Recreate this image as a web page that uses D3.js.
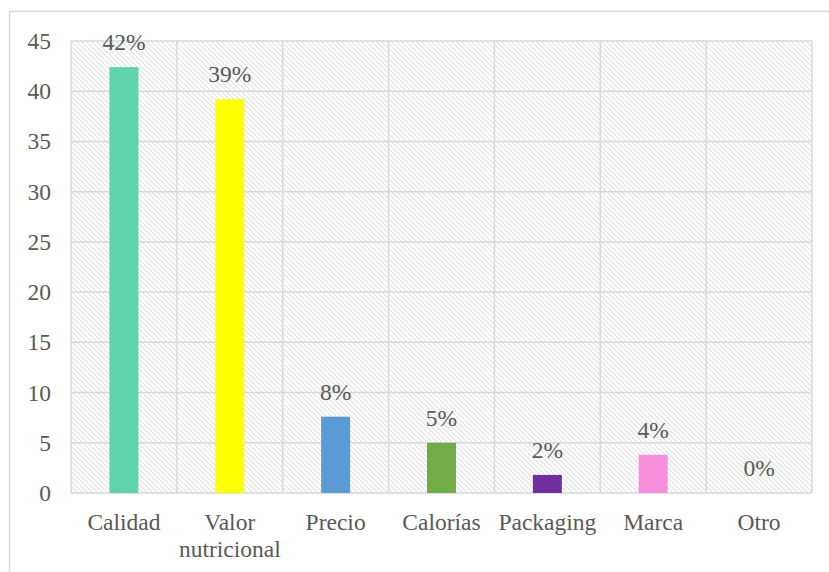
<!DOCTYPE html>
<html><head><meta charset="utf-8">
<script src="https://cdn.jsdelivr.net/npm/d3@7"></script>
<style>html,body{margin:0;padding:0;background:#fff;}svg{display:block;}
svg text{font-family:"Liberation Serif","Times New Roman","DejaVu Serif",serif !important;}</style>
</head><body>
<script>
const categories = ["Calidad", "Valor nutricional", "Precio", "Calorías", "Packaging", "Marca", "Otro"];
const values = [42.4, 39.2, 7.6, 5.0, 1.8, 3.8, 0];
const labels = ["42%", "39%", "8%", "5%", "2%", "4%", "0%"];
const colors = ["#5fd3a9", "#ffff00", "#5b9bd5", "#70ad47", "#7030a0", "#fa8ede", "#a5a5a5"];
const yTicks = [0, 5, 10, 15, 20, 25, 30, 35, 40, 45];

const W = 829, H = 572;
const m = {left: 71, right: 812, top: 41, bottom: 493};
const font = "Liberation Serif";
const txt = "#595959", grid = "#d9d9d9";
const fs = 23.5;

const svg = d3.select("body").append("svg").attr("width", W).attr("height", H);
const defs = svg.append("defs");
const pat = defs.append("pattern").attr("id", "hatch").attr("patternUnits", "userSpaceOnUse")
  .attr("width", 5).attr("height", 5);
pat.append("path").attr("d", "M-1,-1 L6,6 M-1,4 L1,6 M4,-1 L6,1").attr("stroke", "#e0e0e0").attr("stroke-width", 1.1);

svg.append("rect").attr("x", 9.5).attr("y", 11.5).attr("width", 900).attr("height", 700)
  .attr("fill", "#fff").attr("stroke", grid).attr("stroke-width", 1.5);

const x = d3.scaleBand().domain(categories).range([m.left, m.right]).paddingInner(0).paddingOuter(0);
const y = d3.scaleLinear().domain([0, 45]).range([m.bottom, m.top]);

svg.append("rect").attr("x", m.left).attr("y", m.top).attr("width", m.right - m.left)
  .attr("height", m.bottom - m.top).attr("fill", "url(#hatch)");

svg.append("g").selectAll("line").data(yTicks).join("line")
  .attr("x1", m.left).attr("x2", m.right).attr("y1", d => y(d)).attr("y2", d => y(d))
  .attr("stroke", grid).attr("stroke-width", 1.5);
const bounds = categories.map(c => x(c)).concat([m.right]);
svg.append("g").selectAll("line").data(bounds).join("line")
  .attr("x1", d => d).attr("x2", d => d).attr("y1", m.top).attr("y2", m.bottom)
  .attr("stroke", grid).attr("stroke-width", 1.5);

const yAxis = d3.axisLeft(y).tickValues(yTicks).tickSize(0).tickPadding(20);
const ya = svg.append("g").attr("transform", `translate(${m.left},0)`).call(yAxis)
  .attr("font-family", font).attr("font-size", fs);
ya.select(".domain").remove();
ya.selectAll("text").attr("fill", txt);

const bw = 29;
svg.append("g").selectAll("rect").data(categories).join("rect")
  .attr("x", c => x(c) + x.bandwidth() / 2 - bw / 2)
  .attr("width", bw)
  .attr("y", (c, i) => y(values[i]))
  .attr("height", (c, i) => y(0) - y(values[i]))
  .attr("fill", (c, i) => colors[i]);

svg.append("g").attr("font-family", font).attr("font-size", fs).selectAll("text").data(categories).join("text")
  .attr("x", c => x(c) + x.bandwidth() / 2)
  .attr("y", (c, i) => y(values[i]) - 17)
  .attr("text-anchor", "middle").attr("fill", txt)
  .text((c, i) => labels[i]);

const xl = svg.append("g").attr("font-family", font).attr("font-size", fs).selectAll("text").data(categories).join("text")
  .attr("x", c => x(c) + x.bandwidth() / 2)
  .attr("y", 530)
  .attr("text-anchor", "middle").attr("fill", txt);
xl.each(function(c) {
  const t = d3.select(this);
  const parts = c === "Valor nutricional" ? ["Valor", "nutricional"] : [c];
  parts.forEach((p, k) => t.append("tspan").attr("x", x(c) + x.bandwidth() / 2).attr("dy", k ? 27 : 0).text(p));
});
</script>
</body></html>
